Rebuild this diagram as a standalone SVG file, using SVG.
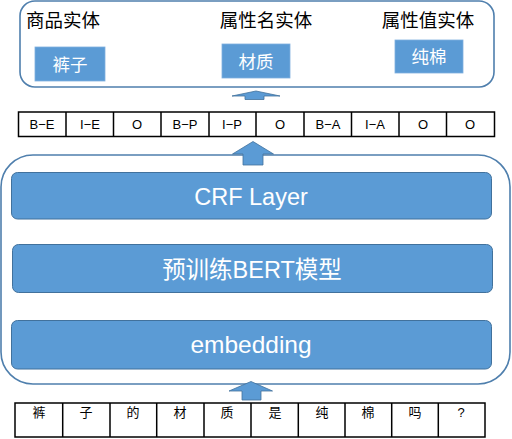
<svg xmlns="http://www.w3.org/2000/svg" width="512" height="439" viewBox="0 0 512 439">
<style>
.frame{fill:#fff;stroke:#4f7fad;stroke-width:1.6}
.ent{fill:#5b9bd5;stroke:#7fb0de;stroke-width:0.8}
.layer{fill:#5b9bd5;stroke:#41719c;stroke-width:1}
.arrow{fill:#5b9bd5;stroke:#41719c;stroke-width:0.8}
.cell{fill:#fff;stroke:#000;stroke-width:1.5}
.lbl{font-family:"Liberation Sans","Noto Sans CJK SC",sans-serif;font-size:18.5px;fill:#000;text-anchor:middle}
.wt{font-family:"Liberation Sans","Noto Sans CJK SC",sans-serif;fill:#fff;text-anchor:middle}
.tag{font-family:"Liberation Sans","Noto Sans CJK SC",sans-serif;font-size:13px;fill:#000;text-anchor:middle}
</style>
<g id="entities">
<rect class="frame" x="20" y="1" width="474" height="86" rx="15"/>
<text class="lbl" x="63" y="27">商品实体</text>
<text class="lbl" x="266" y="27">属性名实体</text>
<text class="lbl" x="428" y="27">属性值实体</text>
<rect class="ent" x="35" y="47" width="70" height="34"/>
<text class="wt" x="70" y="71" font-size="17.5">裤子</text>
<rect class="ent" x="222" y="44" width="68" height="34"/>
<text class="wt" x="256" y="68" font-size="17.5">材质</text>
<rect class="ent" x="395" y="40" width="68" height="33"/>
<text class="wt" x="429" y="63" font-size="17.5">纯棉</text>
</g>
<g id="tags">
<rect class="cell" x="18.5" y="112" width="476" height="24.5"/>
<path class="cell" d="M66 112V136.5M113.5 112V136.5M161 112V136.5M209 112V136.5M256 112V136.5M304 112V136.5M351.5 112V136.5M399 112V136.5M446.5 112V136.5"/>
<text class="tag" x="42" y="129">B−E</text>
<text class="tag" x="90" y="129">I−E</text>
<text class="tag" x="137" y="129">O</text>
<text class="tag" x="185" y="129">B−P</text>
<text class="tag" x="232" y="129">I−P</text>
<text class="tag" x="280" y="129">O</text>
<text class="tag" x="328" y="129">B−A</text>
<text class="tag" x="375" y="129">I−A</text>
<text class="tag" x="423" y="129">O</text>
<text class="tag" x="470" y="129">O</text>
</g>
<g id="model">
<rect class="frame" x="1" y="155" width="509" height="229" rx="32"/>
</g>
<g id="crf">
<rect class="layer" x="11.5" y="172.5" width="480" height="46.5" rx="6"/>
<text class="wt" x="251" y="205" font-size="23.5">CRF Layer</text>
</g>
<g id="bert">
<rect class="layer" x="12.5" y="244.5" width="480" height="48" rx="6"/>
<text class="wt" x="252" y="278" font-size="23.5">预训练BERT模型</text>
</g>
<g id="embedding">
<rect class="layer" x="11.5" y="320.5" width="480" height="48.5" rx="6"/>
<text class="wt" x="251" y="353" font-size="24.5">embedding</text>
</g>
<g id="tokens">
<rect class="cell" x="15" y="403" width="470" height="34"/>
<path class="cell" d="M62.7 403V437M110 403V437M156.7 403V437M204 403V437M251 403V437M298.3 403V437M345 403V437M391.7 403V437M438.3 403V437"/>
<text class="tag" x="39" y="417">裤</text>
<text class="tag" x="86" y="417">子</text>
<text class="tag" x="133" y="417">的</text>
<text class="tag" x="180" y="417">材</text>
<text class="tag" x="227" y="417">质</text>
<text class="tag" x="275" y="417">是</text>
<text class="tag" x="322" y="417">纯</text>
<text class="tag" x="368" y="417">棉</text>
<text class="tag" x="415" y="417">吗</text>
<text class="tag" x="461" y="417">?</text>
</g>
<g id="connectors">
<path class="arrow" d="M245 99.5V96H232L256 91L280 96H264V99.5Z"/>
<path class="arrow" d="M243 165V154H232.5L253 141.5L273.5 154H263V165Z"/>
<path class="arrow" d="M242 400V391H229L251 381.5L272.5 391H261V400Z"/>
</g>
</svg>
